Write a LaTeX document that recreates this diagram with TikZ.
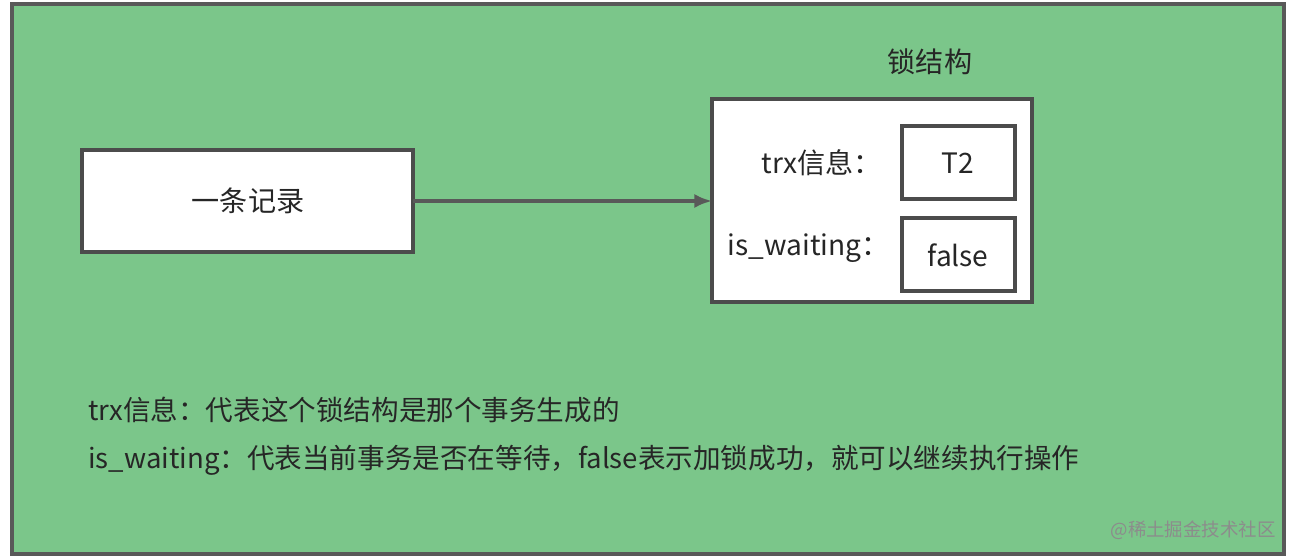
\documentclass[tikz,border=0pt]{standalone}
\usepackage{fontspec}
\usetikzlibrary{arrows.meta}
\setmainfont{Noto Sans CJK SC}
\begin{document}
\begin{tikzpicture}[x=0.02cm,y=-0.02cm,
  box/.style={draw=black!70,line width=2.2pt,fill=white},
  txt/.style={font=\fontsize{16}{19}\selectfont,text=black!85,inner sep=0pt},
  small/.style={font=\fontsize{15.7}{18}\selectfont,text=black!85,inner sep=0pt,anchor=west}]
\useasboundingbox (0,0) rectangle (1294,560);
\fill[white] (0,0) rectangle (1294,560);
\draw[line width=2.2pt,draw=black!65,fill={rgb,255:red,123;green,198;blue,138}] (12,4) rectangle (1284,554);
\draw[box] (82,150) rectangle (413,252);
\node[txt] (rec) at (248,201) {一条记录};
\draw[box] (712,99) rectangle (1032,302);
\coordinate (lockw) at (712,201);
\coordinate (recE) at (413,201);
\node[txt] (lock) at (930,62) {锁结构};
\draw[box] (902,126) rectangle (1015,199);
\draw[box] (902,218) rectangle (1015,291);
\node[txt] (t2) at (958,163) {T2};
\node[txt] (fa) at (958,255) {false};
\node[txt,anchor=east] (trx) at (882,163) {trx信息：};
\node[txt,anchor=east] (isw) at (890,248) {is\_waiting：};
\draw[line width=2pt,draw=black!65,-{Latex[length=10pt,width=8pt]}] (recE) -- (lockw);
\node[small] (l1) at (88,410) {trx信息：代表这个锁结构是那个事务生成的};
\node[small] (l2) at (88,460) {is\_waiting：代表当前事务是否在等待，false表示加锁成功，就可以继续执行操作};
\node[font=\fontsize{10.5}{12}\selectfont,text=black!45,anchor=east,inner sep=0pt] (wm) at (1276,530) {@稀土掘金技术社区};
\end{tikzpicture}
\end{document}
